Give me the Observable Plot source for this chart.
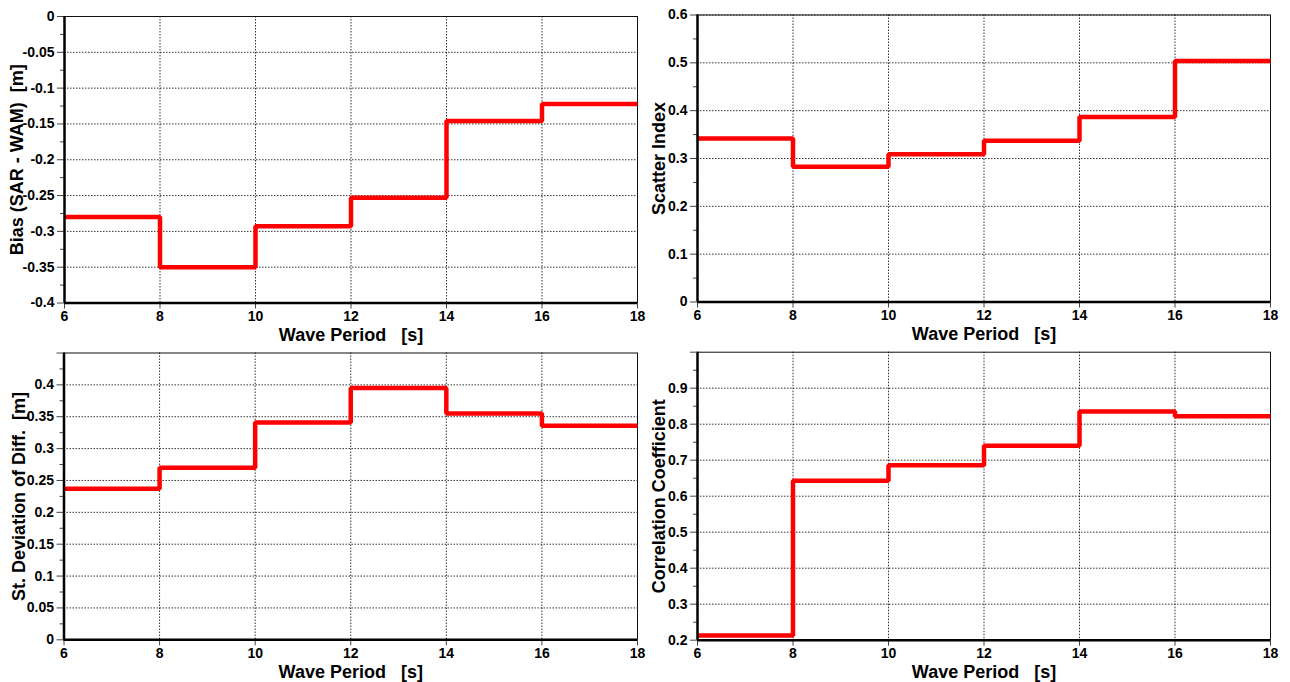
<!DOCTYPE html>
<html><head><meta charset="utf-8">
<script src="https://cdn.jsdelivr.net/npm/d3@7"></script>
<script src="https://cdn.jsdelivr.net/npm/@observablehq/plot@0.6"></script>
<style>
html,body{margin:0;padding:0;background:#fff;}
#chart{position:relative;width:1290px;height:682px;overflow:hidden;background:#fff;}
#chart svg{position:absolute;overflow:visible;}
</style></head><body><div id="chart"></div>
<script>
// ---- data ----
const periodStarts = [6, 8, 10, 12, 14, 16];
const periodEnd = 18;
const periodTicks = [6, 8, 10, 12, 14, 16, 18];
const xTitle = "Wave Period\u00a0\u00a0\u00a0[s]";

const bias = [-0.280, -0.350, -0.293, -0.253, -0.146, -0.122];
const scatterIndex = [0.342, 0.283, 0.309, 0.337, 0.387, 0.504];
const stdDiff = [0.237, 0.270, 0.341, 0.395, 0.355, 0.336];
const correlation = [0.213, 0.643, 0.686, 0.740, 0.835, 0.822];

const biasTicks = [0, -0.05, -0.1, -0.15, -0.2, -0.25, -0.3, -0.35, -0.4];
const scatterTicks = [0, 0.1, 0.2, 0.3, 0.4, 0.5, 0.6];
const stdTicks = [0, 0.05, 0.1, 0.15, 0.2, 0.25, 0.3, 0.35, 0.4];
const corrTicks = [0.2, 0.3, 0.4, 0.5, 0.6, 0.7, 0.8, 0.9];

const biasTitle = "Bias (SAR - WAM)\u00a0\u00a0[m]";
const scatterTitle = "Scatter Index";
const stdTitle = "St. Deviation of Diff.\u00a0\u00a0[m]";
const corrTitle = "Correlation Coefficient";

// ---- layout ----
const panels = [
  {values: bias, title: biasTitle, ticks: biasTicks, domain: [-0.4, 0], step: 0.05, extraTop: null,
   left: 0, top: 0, mL: 64, mR: 8, mT: 16, mB: 38.5, dx: -47},
  {values: scatterIndex, title: scatterTitle, ticks: scatterTicks, domain: [0, 0.6], step: 0.1, extraTop: null,
   left: 645, top: 0, mL: 52, mR: 20, mT: 14.5, mB: 39.5, dx: -38},
  {values: stdDiff, title: stdTitle, ticks: stdTicks, domain: [0, 0.45], step: 0.05, extraTop: 0.45,
   left: 0, top: 341, mL: 63.5, mR: 8, mT: 11.5, mB: 42.7, dx: -44.5},
  {values: correlation, title: corrTitle, ticks: corrTicks, domain: [0.2, 1.0], step: 0.1, extraTop: 1.0,
   left: 645, top: 341, mL: 52, mR: 20, mT: 10.7, mB: 42.3, dx: -38}
];

const font = "'Liberation Sans', Arial, Helvetica, sans-serif";
const fmt = d => String(+d.toFixed(3));
const chart = document.getElementById("chart");

for (const p of panels) {
  const pts = periodStarts.map((x, i) => ({x, y: p.values[i]}));
  pts.push({x: periodEnd, y: p.values[p.values.length - 1]});
  const [lo, hi] = p.domain;
  const n = Math.round((hi - lo) / p.step);
  const minor = d3.range(n).map(i => lo + (i + 0.5) * p.step);
  const marks = [
    Plot.gridY(p.ticks, {stroke: "#000", strokeOpacity: 0.8, strokeDasharray: "1.5,1.5"}),
    Plot.gridX([8, 10, 12, 14, 16], {stroke: "#000", strokeOpacity: 0.8, strokeDasharray: "1.5,1.5"}),
    Plot.frame({stroke: "#111", strokeWidth: 1}),
    Plot.axisY(minor, {tickSize: 4, tickFormat: () => "", stroke: "#444", label: null}),
    Plot.axisY(p.ticks, {tickSize: 7, tickPadding: 3, tickFormat: fmt, stroke: "#444",
      fontSize: 14, fontWeight: "bold", label: null}),
    Plot.axisX(periodTicks, {tickSize: 6, tickPadding: 2, tickFormat: d => String(d), stroke: "#444",
      fontSize: 14, fontWeight: "bold", label: null}),
    Plot.line(pts, {x: "x", y: "y", curve: "step-after", stroke: "#ff0000", strokeWidth: 4.5,
      strokeLinejoin: "miter", strokeLinecap: "butt"}),
    Plot.ruleX([6], {stroke: "#000", strokeWidth: 2.5}),
    Plot.ruleY([lo], {stroke: "#000", strokeWidth: 2.5}),
    Plot.text([p.title], {frameAnchor: "left", dx: p.dx, rotate: -90, text: d => d,
      textAnchor: "middle", lineAnchor: "middle",
      fontSize: 18, fontWeight: "bold", fill: "#000"}),
    Plot.text([xTitle], {frameAnchor: "bottom", dy: 32, lineAnchor: "middle", textAnchor: "middle", text: d => d,
      fontSize: 18, fontWeight: "bold", fill: "#000"})
  ];
  if (p.extraTop != null) {
    marks.push(Plot.axisY([p.extraTop], {tickSize: 7, tickFormat: () => "", stroke: "#444", label: null}));
  }
  const svg = Plot.plot({
    width: 645,
    height: 341,
    marginLeft: p.mL, marginRight: p.mR, marginTop: p.mT, marginBottom: p.mB,
    x: {domain: [6, 18]},
    y: {domain: p.domain},
    style: {fontFamily: font, fontSize: "14px", fontWeight: "bold", color: "#000", background: "transparent", overflow: "visible"},
    marks
  });
  svg.style.left = p.left + "px";
  svg.style.top = p.top + "px";
  chart.appendChild(svg);
}
</script>
</body></html>
